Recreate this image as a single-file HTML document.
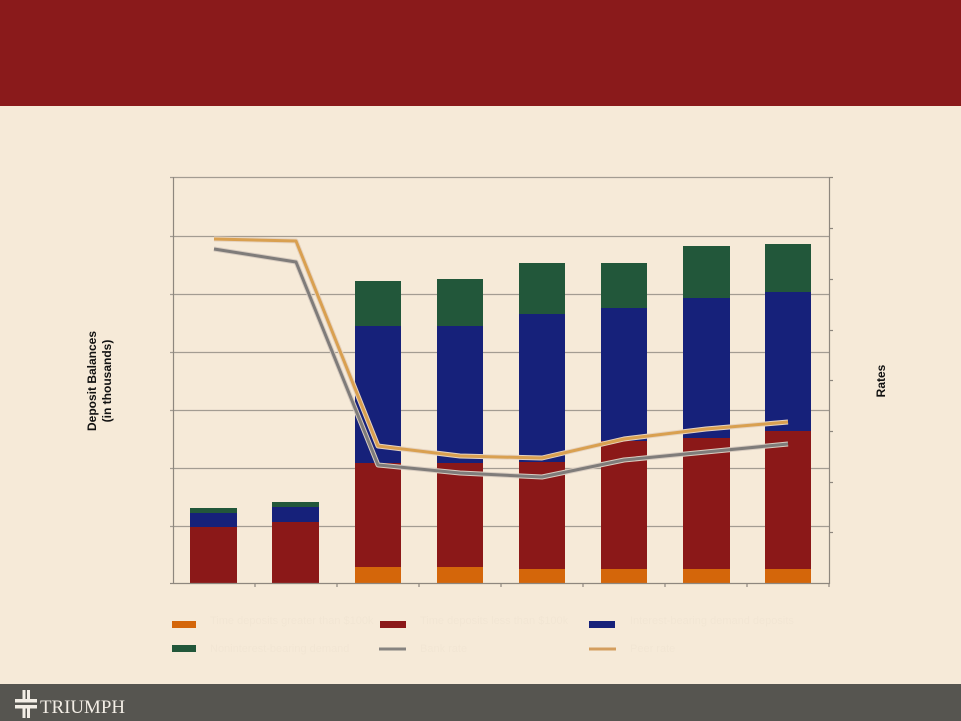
<!DOCTYPE html>
<html><head><meta charset="utf-8"><style>
html,body{margin:0;padding:0;background:#F6EAD8;}
body{width:961px;height:721px;overflow:hidden;position:relative;font-family:"Liberation Sans",sans-serif;}
</style></head><body>
<svg width="961" height="721" viewBox="0 0 961 721" xmlns="http://www.w3.org/2000/svg" style="position:absolute;left:0;top:0">
<rect x="0" y="0" width="961" height="721" fill="#F6EAD8"/>
<rect x="0" y="0" width="961" height="106" fill="#8A1A1B"/>
<rect x="0" y="684" width="961" height="37" fill="#565550"/>
<!-- gridlines -->
<g stroke="#A39C92" stroke-width="1.3">
<line x1="170" y1="177.5" x2="829" y2="177.5"/>
<line x1="170" y1="236.5" x2="829" y2="236.5"/>
<line x1="170" y1="294.5" x2="829" y2="294.5"/>
<line x1="170" y1="352.5" x2="829" y2="352.5"/>
<line x1="170" y1="410.5" x2="829" y2="410.5"/>
<line x1="170" y1="468.5" x2="829" y2="468.5"/>
<line x1="170" y1="526.5" x2="829" y2="526.5"/>
</g>
<!-- bars -->
<g>
<rect x="190" y="527" width="47" height="56" fill="#8B1818"/>
<rect x="190" y="513" width="47" height="14" fill="#16217A"/>
<rect x="190" y="508" width="47" height="5" fill="#22573A"/>
<rect x="272" y="522" width="47" height="61" fill="#8B1818"/>
<rect x="272" y="507" width="47" height="15" fill="#16217A"/>
<rect x="272" y="502" width="47" height="5" fill="#22573A"/>
<rect x="355" y="567" width="46" height="16" fill="#D4660A"/>
<rect x="355" y="463" width="46" height="104" fill="#8B1818"/>
<rect x="355" y="326" width="46" height="137" fill="#16217A"/>
<rect x="355" y="281" width="46" height="45" fill="#22573A"/>
<rect x="437" y="567" width="46" height="16" fill="#D4660A"/>
<rect x="437" y="463" width="46" height="104" fill="#8B1818"/>
<rect x="437" y="326" width="46" height="137" fill="#16217A"/>
<rect x="437" y="279" width="46" height="47" fill="#22573A"/>
<rect x="519" y="569" width="46" height="14" fill="#D4660A"/>
<rect x="519" y="462" width="46" height="107" fill="#8B1818"/>
<rect x="519" y="314" width="46" height="148" fill="#16217A"/>
<rect x="519" y="263" width="46" height="51" fill="#22573A"/>
<rect x="601" y="569" width="46" height="14" fill="#D4660A"/>
<rect x="601" y="441" width="46" height="128" fill="#8B1818"/>
<rect x="601" y="308" width="46" height="133" fill="#16217A"/>
<rect x="601" y="263" width="46" height="45" fill="#22573A"/>
<rect x="683" y="569" width="47" height="14" fill="#D4660A"/>
<rect x="683" y="438" width="47" height="131" fill="#8B1818"/>
<rect x="683" y="298" width="47" height="140" fill="#16217A"/>
<rect x="683" y="246" width="47" height="52" fill="#22573A"/>
<rect x="765" y="569" width="46" height="14" fill="#D4660A"/>
<rect x="765" y="431" width="46" height="138" fill="#8B1818"/>
<rect x="765" y="292" width="46" height="139" fill="#16217A"/>
<rect x="765" y="244" width="46" height="48" fill="#22573A"/>
</g>
<!-- axes -->
<g stroke="#8E877E" stroke-width="1.2" fill="none">
<line x1="173.5" y1="177" x2="173.5" y2="584"/>
<line x1="173" y1="583.5" x2="830" y2="583.5"/>
<line x1="829.5" y1="177" x2="829.5" y2="584"/>
<line x1="170" y1="583.5" x2="173" y2="583.5"/>
<line x1="255" y1="583" x2="255" y2="587"/>
<line x1="337" y1="583" x2="337" y2="587"/>
<line x1="419" y1="583" x2="419" y2="587"/>
<line x1="501" y1="583" x2="501" y2="587"/>
<line x1="583" y1="583" x2="583" y2="587"/>
<line x1="665" y1="583" x2="665" y2="587"/>
<line x1="747" y1="583" x2="747" y2="587"/>
<line x1="829" y1="583" x2="829" y2="587"/>
<line x1="829" y1="177.5" x2="833" y2="177.5"/>
<line x1="829" y1="228.5" x2="833" y2="228.5"/>
<line x1="829" y1="279.5" x2="833" y2="279.5"/>
<line x1="829" y1="330.5" x2="833" y2="330.5"/>
<line x1="829" y1="380.5" x2="833" y2="380.5"/>
<line x1="829" y1="431.5" x2="833" y2="431.5"/>
<line x1="829" y1="482.5" x2="833" y2="482.5"/>
<line x1="829" y1="532.5" x2="833" y2="532.5"/>
</g>
<!-- lines -->
<g fill="none" stroke-linejoin="round" stroke-linecap="butt">
<polyline points="214,239 296,241 378,446 460,456 542,458 624,439 706,429 788,422" stroke="#E6D3C0" stroke-width="5"/>
<polyline points="214,239 296,241 378,446 460,456 542,458 624,439 706,429 788,422" stroke="#D9A050" stroke-width="3"/>
<polyline points="214,249 296,262 378,465 460,473 542,477 624,460 706,452 788,444" stroke="#D8CCC0" stroke-width="5"/>
<polyline points="214,249 296,262 378,465 460,473 542,477 624,460 706,452 788,444" stroke="#7F7C7A" stroke-width="3"/>
</g>
<!-- legend -->
<rect x="172" y="621" width="24" height="7" fill="#D4660A"/>
<rect x="380" y="621" width="26" height="7" fill="#8B1818"/>
<rect x="589" y="621" width="26" height="7" fill="#16217A"/>
<rect x="172" y="645" width="24" height="7" fill="#22573A"/>
<line x1="379" y1="649" x2="406" y2="649" stroke="#878481" stroke-width="3"/>
<line x1="589" y1="649" x2="616" y2="649" stroke="#D49E5E" stroke-width="3"/>
<g font-family="Liberation Sans, sans-serif" font-size="11" fill="#F2E6D4">
<text x="210" y="624">Time deposits greater than $100k</text>
<text x="420" y="624">Time deposits less than $100k</text>
<text x="630" y="624">Interest-bearing demand deposits</text>
<text x="210" y="652">Noninterest-bearing demand</text>
<text x="420" y="652">Bank rate</text>
<text x="630" y="652">Peer rate</text>
</g>
<!-- axis labels -->
<g font-family="Liberation Sans, sans-serif" font-size="12" font-weight="bold" fill="#111">
<text transform="translate(96,381) rotate(-90)" text-anchor="middle">Deposit Balances</text>
<text transform="translate(111,381) rotate(-90)" text-anchor="middle">(in thousands)</text>
<text transform="translate(885,381) rotate(-90)" text-anchor="middle">Rates</text>
</g>
<!-- logo -->
<g fill="#F3EEE6">
<rect x="15" y="699" width="22" height="3.5"/>
<rect x="15" y="705" width="22" height="3.5"/>
<rect x="22.5" y="690" width="3" height="28"/>
<rect x="27" y="690" width="3" height="28"/>
</g>
<rect x="22.5" y="702.5" width="7.5" height="2.5" fill="#565550"/>
<text x="40" y="713" font-family="Liberation Serif, serif" font-size="19" fill="#F3EEE6" textLength="85" lengthAdjust="spacingAndGlyphs">TRIUMPH</text>
</svg>
</body></html>
